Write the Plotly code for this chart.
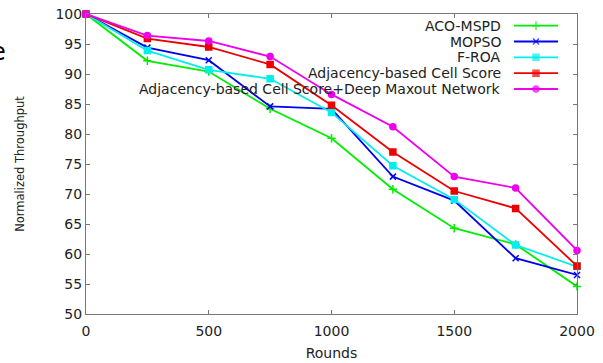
import plotly.graph_objects as go

rounds = [0, 250, 500, 750, 1000, 1250, 1500, 1750, 2000]
aco_mspd = [100, 92.2, 90.4, 84.2, 79.3, 70.8, 64.3, 61.6, 54.6]
mopso = [100, 94.4, 92.3, 84.6, 84.2, 72.9, 68.9, 59.3, 56.5]
f_roa = [100, 93.9, 90.7, 89.2, 83.6, 74.7, 69.1, 61.5, 57.9]
adj_cell = [100, 95.9, 94.5, 91.6, 84.8, 77.0, 70.5, 67.6, 58.0]
adj_cell_dmn = [100, 96.4, 95.5, 92.9, 86.6, 81.2, 72.9, 71.0, 60.6]

series = [
    ("ACO-MSPD", aco_mspd, "#00ee00", "cross-thin-open", 6),
    ("MOPSO", mopso, "#0000ee", "x-thin-open", 6),
    ("F-ROA", f_roa, "#00eeee", "square", 6),
    ("Adjacency-based Cell Score", adj_cell, "#ee0000", "square", 6),
    ("Adjacency-based Cell Score+Deep Maxout Network", adj_cell_dmn, "#ee00ee", "circle", 6),
]

FONT = "DejaVu Sans, Liberation Sans, Arial"
W, H = 603, 363
L, R, T, B = 86, 26, 14, 49
pw, ph = W - L - R, H - T - B

fig = go.Figure()
for name, vals, col, sym, sz in series:
    fig.add_trace(go.Scatter(
        x=rounds, y=vals, mode="lines+markers", name=name,
        line=dict(color=col, width=1.8),
        marker=dict(symbol=sym, size=sz, color=col, line=dict(color=col, width=1.5)),
        showlegend=False, cliponaxis=False,
    ))

# custom legend (text right-aligned, sample to the right); page pixel coords
def px2x(px):
    return (px - L) / pw

def py2y(py):
    return 1 - (py - T) / ph

row_py = [25.7, 41.5, 57.3, 73.2, 89.0]
for (name, vals, col, sym, sz), py in zip(series, row_py):
    fig.add_annotation(x=px2x(503), y=py2y(py), xref="paper", yref="paper",
                       text=name, showarrow=False, xanchor="right", yanchor="middle",
                       font=dict(family=FONT, size=14, color="#222"))
    fig.add_trace(go.Scatter(
        x=[px2x(514), px2x(536), px2x(558)], y=[py2y(py)] * 3,
        mode="lines+markers", xaxis="x2", yaxis="y2",
        line=dict(color=col, width=1.8),
        marker=dict(symbol=sym, size=[0, sz, 0], color=col, line=dict(color=col, width=1.5)),
        showlegend=False, hoverinfo="skip", cliponaxis=False,
    ))

fig.add_annotation(x=px2x(8), y=py2y(52), xref="paper", yref="paper", text="e",
                   showarrow=False, xanchor="right", yanchor="middle",
                   font=dict(family=FONT, size=24, color="#000"))

axis_common = dict(
    showgrid=False, zeroline=False, showline=True, linecolor="#777", linewidth=1,
    mirror="ticks", ticks="inside", ticklen=4, tickcolor="#777", automargin=False,
    ticklabeloverflow="allow",
    tickfont=dict(family=FONT, size=14, color="#222"),
)

fig.update_layout(
    width=W, height=H,
    margin=dict(l=L, r=R, t=T, b=B, autoexpand=False),
    paper_bgcolor="white", plot_bgcolor="white",
    xaxis=dict(range=[0, 2000], tickvals=[0, 500, 1000, 1500, 2000],
               ticklabelstandoff=4,
               title=dict(text="Rounds", standoff=10,
                          font=dict(family=FONT, size=14, color="#222")),
               **axis_common),
    yaxis=dict(range=[50, 100], tickvals=list(range(50, 101, 5)),
               title=dict(text="Normalized Throughput", standoff=28,
                          font=dict(family=FONT, size=11.5, color="#222")),
               **axis_common),
    xaxis2=dict(range=[0, 1], overlaying="x", visible=False, domain=[0, 1]),
    yaxis2=dict(range=[0, 1], overlaying="y", visible=False),
)

fig.write_html("out.html", config={"displayModeBar": False},
               post_script="document.body.style.margin='0px';")
